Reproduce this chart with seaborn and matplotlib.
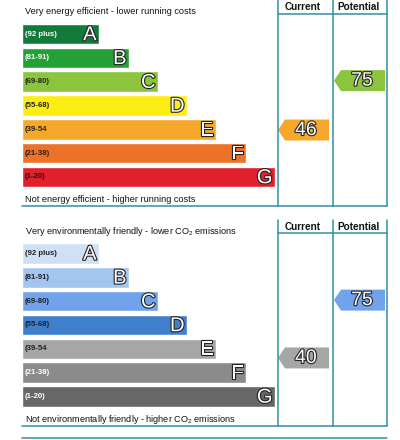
import numpy as np
import pandas as pd
import matplotlib
matplotlib.use("Agg")
import matplotlib.pyplot as plt
import matplotlib.patheffects as pe
from matplotlib.patches import Polygon
import seaborn as sns

# EPC bands
bands = ["A", "B", "C", "D", "E", "F", "G"]
band_ranges = ["(92 plus)", "(81-91)", "(69-80)", "(55-68)", "(39-54", "(21-38)", "(1-20)"]
band_lower = [92, 81, 69, 55, 39, 21, 1]
band_mid = [96, 86, 74.5, 61.5, 46.5, 29.5, 10.5]
bar_len = [77, 107, 136, 165, 194, 224, 253]

energy_colors = ["#127a3b", "#23a135", "#8cc43e", "#fcee12", "#f5a82a", "#ec7227", "#e21f2c"]
env_colors = ["#cfe2f5", "#a3c6ef", "#70a3eb", "#3f7fcb", "#a6a6a6", "#8b8b8b", "#676767"]
energy_range_txt = ["white", "white", "#222", "#222", "#222", "#222", "#3a0a0a"]
env_range_txt = ["#222", "#222", "#222", "#222", "#222", "white", "white"]

energy_current, energy_potential = 46, 75
env_current, env_potential = 40, 75

sns.set_theme(style="white")
plt.rcParams["font.family"] = ["Liberation Sans", "DejaVu Sans"]
plt.rcParams["mathtext.fontset"] = "custom"
plt.rcParams["mathtext.rm"] = "Liberation Sans"
plt.rcParams["mathtext.it"] = "Liberation Sans"

W, H = 400, 440
P = 23.83  # row pitch in px
LINE = "#2f8fa6"
outline = [pe.Stroke(linewidth=1.6, foreground="#222"), pe.Normal()]

fig = plt.figure(figsize=(W / 100, H / 100), dpi=100)

# overlay in pixel coords for frame and texts
ax0 = fig.add_axes([0, 0, 1, 1])
ax0.set_xlim(0, W)
ax0.set_ylim(H, 0)
ax0.axis("off")
ax0.set_zorder(5)
ax0.patch.set_visible(False)


def score_row(score):
    return np.interp(score, band_mid[::-1], list(range(7))[::-1])


def score_color(score, colors):
    for i, lo in enumerate(band_lower):
        if score >= lo:
            return colors[i]
    return colors[-1]


def arrow(ax, score, colors, x_tip):
    r = score_row(score)
    h = 10.5 / P
    x0 = x_tip - 22
    pts = [(x0, r), (x0 + 7, r - h), (x0 + 51, r - h), (x0 + 51, r + h), (x0 + 7, r + h)]
    ax.add_patch(Polygon(pts, closed=True, facecolor=score_color(score, colors), edgecolor="none"))
    ax.text(x0 + 28, r + 0.02, str(score), ha="center", va="center", fontsize=14,
            color="white", path_effects=outline)


def panel(row0, colors, range_txt, current, potential):
    y_top = row0 - P / 2
    ax = fig.add_axes([0, 1 - (y_top + 7 * P) / H, 1, 7 * P / H])
    df = pd.DataFrame({"band": bands, "len": bar_len})
    sns.barplot(data=df, x="len", y="band", hue="band", palette=colors, orient="h",
                width=20.5 / P, saturation=1, legend=False, ax=ax)
    ax.set_xlim(-22, W - 22)
    ax.set_ylim(6.5, -0.5)
    ax.axis("off")
    for i in range(7):
        ax.text(3, i, band_ranges[i], ha="left", va="center", fontsize=5.6,
                fontweight="bold", color=range_txt[i])
        ax.text(bar_len[i] - 2.5, i + 0.03, bands[i], ha="right", va="center", fontsize=14.5,
                color="white", path_effects=outline)
    arrow(ax, current, colors, 278)
    arrow(ax, potential, colors, 334)


def frame(top, head, bottom, title, footer, title_y, footer_y):
    cols = [277.7, 332.7, 387.3]
    for x in cols:
        ax0.plot([x, x], [top, bottom], color=LINE, lw=1.1)
    ax0.plot([cols[0], cols[2]], [head, head], color=LINE, lw=1.1)
    ax0.plot([22, cols[2]], [bottom, bottom], color=LINE, lw=1.1)
    ax0.text(303, (top + head) / 2 + 0.5, "Current", ha="center", va="center",
             fontsize=7.2, fontweight="bold", color="#111")
    ax0.text(358, (top + head) / 2 + 0.5, "Potential", ha="center", va="center",
             fontsize=7.2, fontweight="bold", color="#111")
    ax0.text(25, title_y, title, ha="left", va="center", fontsize=6.6, color="#111")
    ax0.text(25, footer_y, footer, ha="left", va="center", fontsize=6.6, color="#111")


panel(34, energy_colors, energy_range_txt, energy_current, energy_potential)
frame(0, 14, 206, "Very energy efficient - lower running costs",
      "Not energy efficient - higher running costs", 11, 199)

panel(253.5, env_colors, env_range_txt, env_current, env_potential)
frame(220, 233, 426, "Very environmentally friendly - lower CO$_2$ emissions",
      "Not environmentally friendly - higher CO$_2$ emissions", 231, 419)

ax0.plot([22, 387.3], [438, 438], color=LINE, lw=1.1)

fig.savefig("out.png", dpi=100)
